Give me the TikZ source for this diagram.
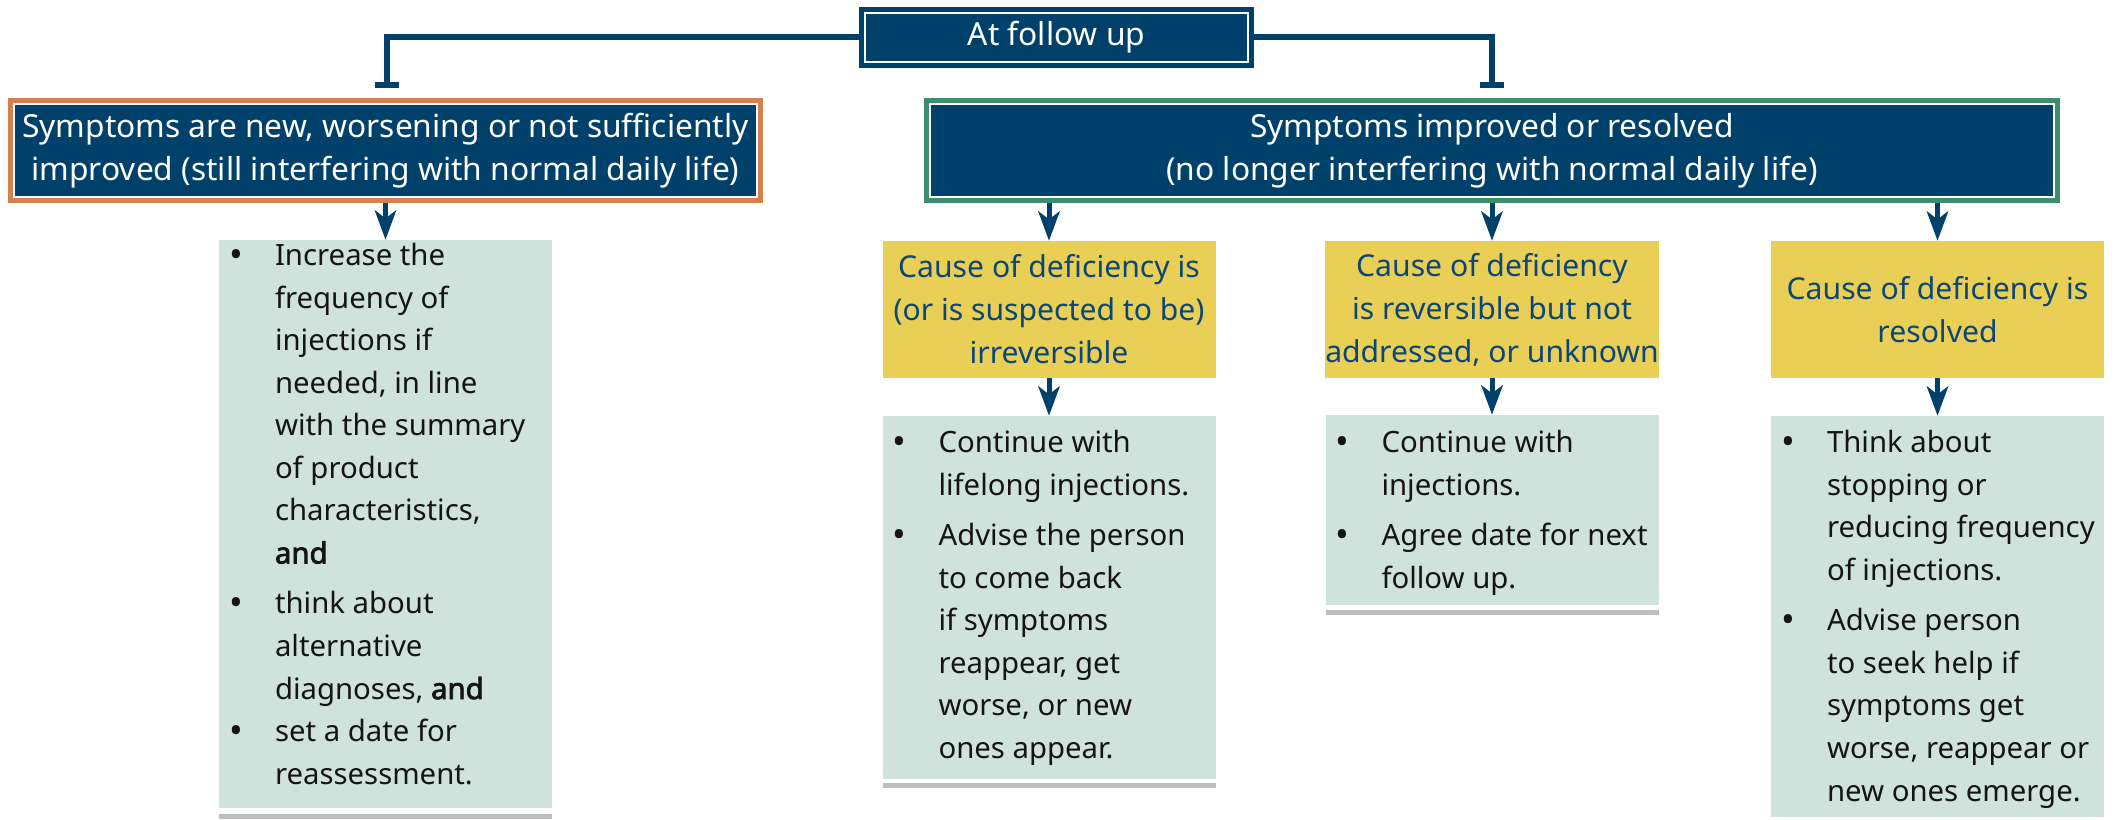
\documentclass[tikz,border=0pt]{standalone}
\usepackage{fontspec}
\setmainfont{Noto Sans}
\newfontfamily\boldfam{Noto Sans}[FakeBold=2.5]
\usetikzlibrary{arrows.meta,calc}
\definecolor{navyc}{RGB}{0,65,107}
\definecolor{orangec}{RGB}{212,128,80}
\definecolor{greenc}{RGB}{60,143,110}
\definecolor{ylwc}{RGB}{233,207,85}
\definecolor{ytextc}{RGB}{10,70,120}
\definecolor{tealc}{RGB}{207,227,220}
\definecolor{grayc}{RGB}{190,190,190}
\definecolor{inkc}{RGB}{20,20,20}
\newcommand\hfont{\fontsize{23.8pt}{32pt}\selectfont}
\newcommand\bfont{\fontsize{22pt}{31.9pt}\selectfont}
\newcommand\yfont{\fontsize{22.6pt}{32.2pt}\selectfont}
\newcommand\bul{\makebox[34.5pt][l]{\raisebox{-1.2pt}{\scalebox{1.25}{\textbullet}}}}
\newcommand\ind{\hspace*{34.5pt}}
\newcommand\andb{{\boldfam and}}
\newcommand\lst[1]{\parbox[t]{260pt}{\raggedright #1}}
\begin{document}
\begin{tikzpicture}[x=0.75pt,y=-0.75pt,
  wh/.style 2 args={minimum width=#1*0.75pt,minimum height=#2*0.75pt},
  framebox/.style={fill=navyc, inner sep=0pt, text=white, align=center,
    line width=3.75pt, font=\hfont,
    path picture={\draw[white,line width=1.5pt]
      ([shift={(3.5,3.5)}]path picture bounding box.north west) rectangle
      ([shift={(-3.5,-3.5)}]path picture bounding box.south east);}},
  causebox/.style={fill=ylwc, text=ytextc, align=center, inner sep=0pt,
    font=\yfont, wh={333}{137}},
  tealbox/.style={fill=tealc, inner sep=0pt, minimum width=333*0.75pt},
  shadowbar/.style={fill=grayc, inner sep=0pt, minimum width=333*0.75pt,
    minimum height=5*0.75pt},
  conn/.style={draw=navyc, line width=4.5pt, -{Bar[width=18pt]}},
  arr/.style={draw=navyc, line width=3.75pt,
    -{Stealth[length=22pt,width=16pt,inset=6pt]}},
  listtext/.style={anchor=base west, inner sep=0pt, text=inkc, font=\bfont}
]
\useasboundingbox (0,0) rectangle (2114,820);

% header boxes
\node[framebox, draw=navyc, wh={390}{56}] (top) at (1056.5,37.5) {At follow up};
\node[framebox, draw=orangec, wh={750}{100}] (worse) at (385.5,150.5)
  {Symptoms are new, worsening or not sufficiently\\improved (still interfering with normal daily life)};
\node[framebox, draw=greenc, wh={1131}{100}] (better) at (1492,150.5)
  {Symptoms improved or resolved\\(no longer interfering with normal daily life)};

% cause boxes
\node[causebox] (c1) at (1049,309.5) {Cause of deficiency is\\(or is suspected to be)\\irreversible};
\node[causebox] (c2) at (1492,309.5) {Cause of deficiency\\is reversible but not\\addressed, or unknown};
\node[causebox] (c3) at (1937.5,309.5) {Cause of deficiency is\\resolved};

% action boxes
\node[tealbox, minimum height=568*0.75pt] (t0) at (385.5,524) {};
\node[shadowbar] (s0) at (385.5,816.5) {};
\node[tealbox, minimum height=363*0.75pt] (t1) at (1049,597.5) {};
\node[shadowbar] (s1) at (1049,785.5) {};
\node[tealbox, minimum height=190*0.75pt] (t2) at (1492,510) {};
\node[shadowbar] (s2) at (1492,612) {};
\node[tealbox, minimum height=401*0.75pt] (t3) at (1937.5,616.5) {};

\node[listtext] (l0) at ($(t0.north west)+(10,26)$) {\lst{%
\bul Increase the\\ \ind frequency of\\ \ind injections if\\ \ind needed, in line\\
\ind with the summary\\ \ind of product\\ \ind characteristics,\\ \ind \andb\\[6pt]
\bul think about\\ \ind alternative\\ \ind diagnoses, \andb\\
\bul set a date for\\ \ind reassessment.}};
\node[listtext] (l1) at ($(t1.north west)+(10,37)$) {\lst{%
\bul Continue with\\ \ind lifelong injections.\\[6pt]
\bul Advise the person\\ \ind to come back\\ \ind if symptoms\\ \ind reappear, get\\
\ind worse, or new\\ \ind ones appear.}};
\node[listtext] (l2) at ($(t2.north west)+(10,38)$) {\lst{%
\bul Continue with\\ \ind injections.\\[6pt]
\bul Agree date for next\\ \ind follow up.}};
\node[listtext] (l3) at ($(t3.north west)+(10,37)$) {\lst{%
\bul Think about\\ \ind stopping or\\ \ind reducing frequency\\ \ind of injections.\\[6pt]
\bul Advise person\\ \ind to seek help if\\ \ind symptoms get\\ \ind worse, reappear or\\
\ind new ones emerge.}};

% connectors
\coordinate (lend) at ($(worse.north)+(1.5,-10)$);
\coordinate (rend) at ($(better.north)+(0,-10)$);
\draw[conn] (top.west) -| (lend);
\draw[conn] (top.east) -| (rend);

\draw[arr] (t0.north |- worse.south) -- (t0.north);
\draw[arr] (c1.north |- better.south) -- (c1.north);
\draw[arr] (c2.north |- better.south) -- (c2.north);
\draw[arr] (c3.north |- better.south) -- (c3.north);
\draw[arr] (c1.south) -- (t1.north);
\draw[arr] (c2.south) -- (t2.north);
\draw[arr] (c3.south) -- (t3.north);
\end{tikzpicture}
\end{document}
